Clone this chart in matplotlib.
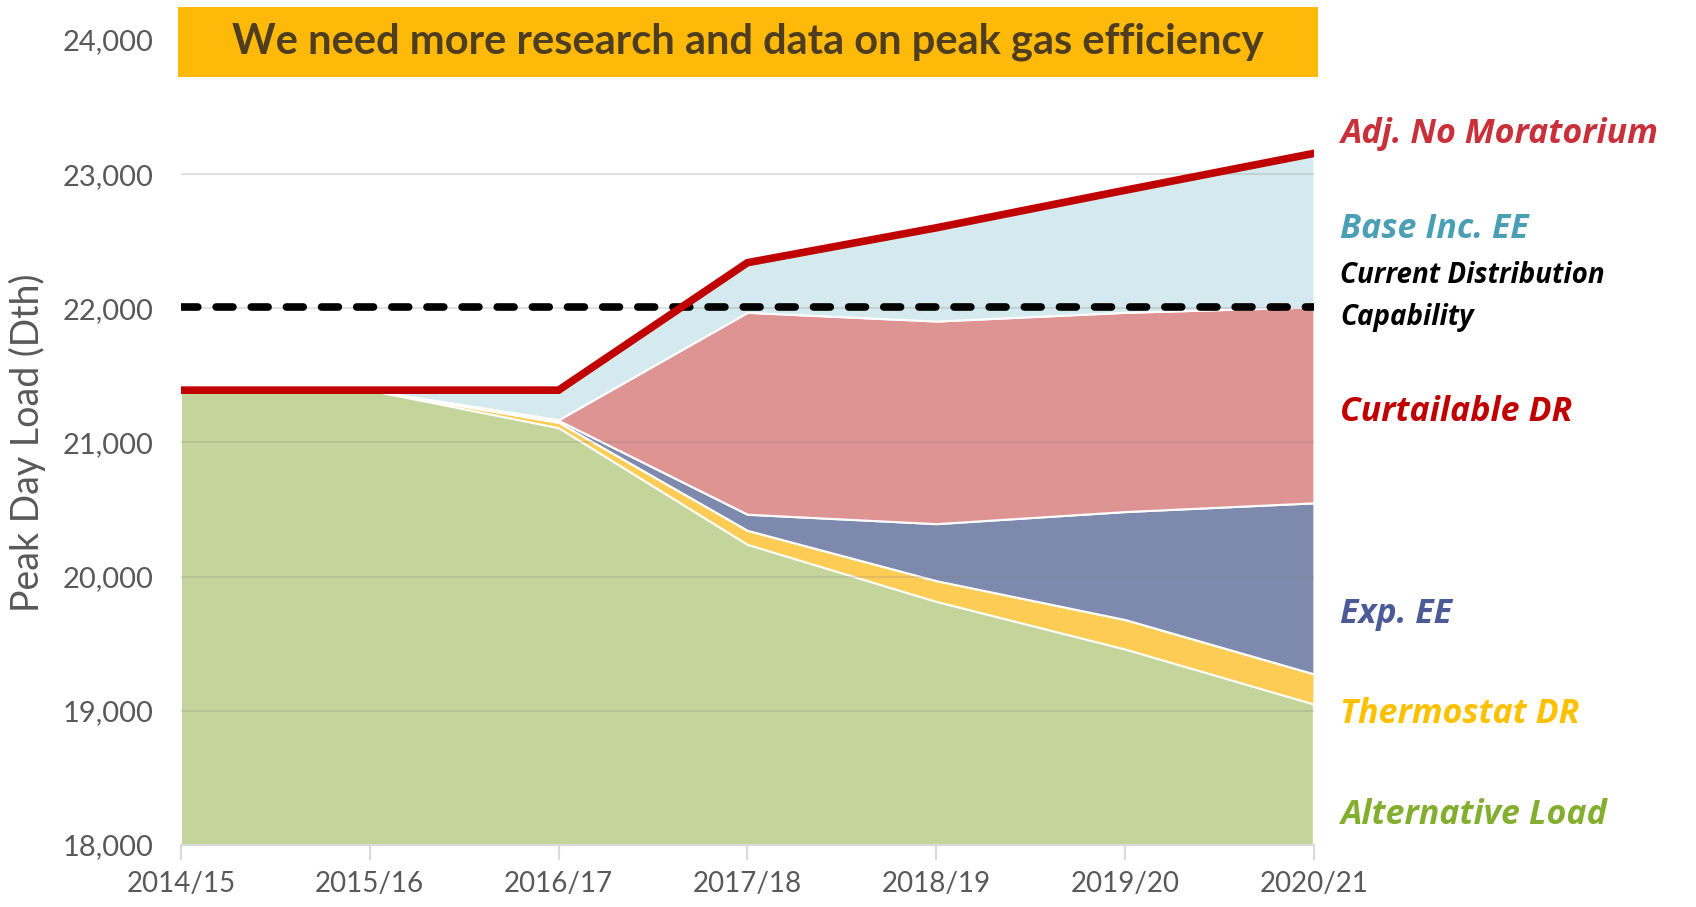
import numpy as np
import matplotlib.pyplot as plt
from matplotlib.patches import Rectangle

years = ['2014/15', '2015/16', '2016/17', '2017/18', '2018/19', '2019/20', '2020/21']

# stacked layers (Dth)
alternative_load = [21390, 21390, 21110, 20240, 19815, 19460, 19050]
thermostat_dr = [0, 0, 40, 105, 155, 220, 225]
exp_ee = [0, 0, 15, 120, 425, 805, 1275]
curtailable_dr = [0, 0, 5, 1505, 1510, 1485, 1460]
base_inc_ee = [0, 0, 220, 370, 695, 910, 1145]

adj_no_moratorium = [21390, 21390, 21390, 22340, 22600, 22880, 23155]
distribution_capability = 22010

yticks = [18000, 19000, 20000, 21000, 22000, 23000, 24000]

label_names = ['Adj. No Moratorium', 'Base Inc. EE', 'Current Distribution', 'Capability',
               'Curtailable DR', 'Exp. EE', 'Thermostat DR', 'Alternative Load']
label_y = [23300, 22590, 22245, 21930, 21225, 19725, 18975, 18225]
label_colors = ['#C8303A', '#4A9FB5', '#000000', '#000000',
                '#C00000', '#4C5A96', '#FFC000', '#84AE30']

layer_colors = ['#C3D59B', '#FDCC55', '#7E8AAD', '#DF9494', '#D4EAEE']

fig = plt.figure(figsize=(16.96, 9.07), dpi=100)
ax = fig.add_axes([0.1067, 0.0684, 0.668, 0.8875])

x = np.arange(len(years))
ax.stackplot(x, alternative_load, thermostat_dr, exp_ee, curtailable_dr, base_inc_ee,
             colors=layer_colors, edgecolor='white', linewidth=1.5, zorder=1)

for yv in yticks[1:-1]:
    ax.axhline(yv, color='#7F7F7F', alpha=0.22, linewidth=1.5, zorder=2)

ax.axhline(distribution_capability, color='black', linewidth=5.5,
           linestyle=(0, (2.2, 2.4)), dash_capstyle='round', zorder=4)
ax.plot(x, adj_no_moratorium, color='#C00000', linewidth=5.5,
        solid_joinstyle='miter', zorder=5)

ax.set_xlim(0, 6)
ax.set_ylim(18000, 24000)
ax.set_xticks(x)
ax.set_xticklabels(years)
ax.set_yticks(yticks)
ax.set_yticklabels([f'{v:,}' for v in yticks])

for s in ['top', 'right', 'left']:
    ax.spines[s].set_visible(False)
ax.spines['bottom'].set_color('#D9D9D9')
ax.spines['bottom'].set_linewidth(1.5)
ax.tick_params(axis='x', length=11, width=1.5, color='#D9D9D9', pad=8,
               labelsize=20, labelcolor='#595959')
ax.tick_params(axis='y', length=0, pad=20, labelsize=21, labelcolor='#595959')
for lab in ax.get_xticklabels() + ax.get_yticklabels():
    lab.set_family('Lato')

ax.set_ylabel('Peak Day Load (Dth)', fontsize=27, color='#595959', family='Lato', labelpad=12)

for name, yv, c in zip(label_names, label_y, label_colors):
    small = c == '#000000'
    ax.text(6.14, yv, name, color=c, fontsize=20 if small else 24.5,
            fontweight='bold', fontstyle='italic', family='Open Sans',
            va='center', ha='left', clip_on=False)

# banner
fig.patches.append(Rectangle((0.105, 0.915), 0.672, 0.077, transform=fig.transFigure,
                             facecolor='#FFB909', edgecolor='none', zorder=10))
fig.text(0.441, 0.9537, 'We need more research and data on peak gas efficiency',
         ha='center', va='center', fontsize=30, fontweight='bold', family='Lato',
         color='#4F3D1F', zorder=11)

fig.savefig('out.png', dpi=100)
